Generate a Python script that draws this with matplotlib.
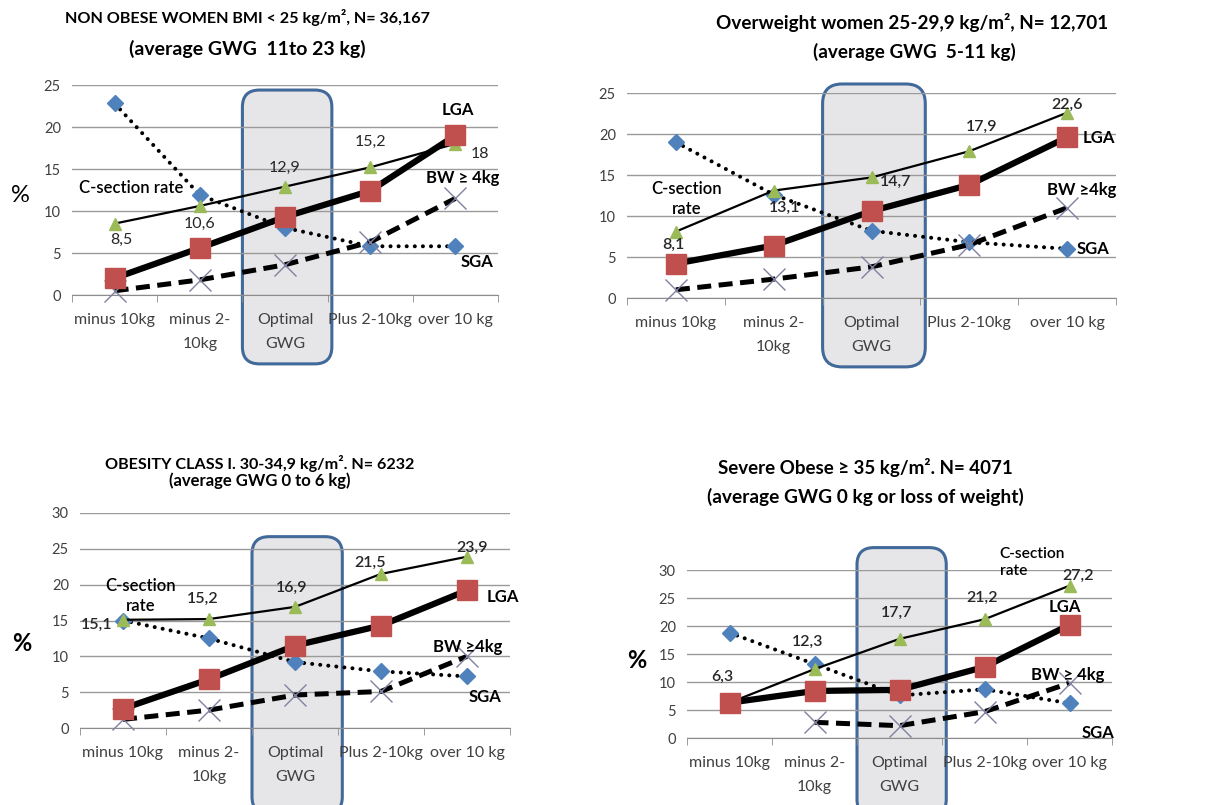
import numpy as np
import matplotlib
matplotlib.use("Agg")
import matplotlib.pyplot as plt
from matplotlib.patches import FancyBboxPatch

plt.rcParams['font.family'] = ['Lato', 'DejaVu Sans']

categories = ["minus 10kg", "minus 2-\n10kg", "Optimal\nGWG", "Plus 2-10kg", "over 10 kg"]

# Panel 1: non obese
p1_sga = [22.8, 11.9, 8.0, 5.8, 5.8]
p1_lga = [2.0, 5.6, 9.3, 12.4, 19.0]
p1_cs = [8.5, 10.6, 12.9, 15.2, 18.0]
p1_bw = [0.5, 1.8, 3.6, 6.3, 11.5]
p1_cs_labels = ["8,5", "10,6", "12,9", "15,2", "18"]

# Panel 2: overweight
p2_sga = [19.0, 12.6, 8.2, 6.8, 6.0]
p2_lga = [4.2, 6.4, 10.6, 13.8, 19.6]
p2_cs = [8.1, 13.1, 14.7, 17.9, 22.6]
p2_bw = [1.0, 2.3, 3.8, 6.5, 11.0]
p2_cs_labels = ["8,1", "13,1", "14,7", "17,9", "22,6"]

# Panel 3: obesity class I
p3_sga = [15.0, 12.5, 9.2, 7.9, 7.2]
p3_lga = [2.7, 6.8, 11.5, 14.3, 19.2]
p3_cs = [15.1, 15.2, 16.9, 21.5, 23.9]
p3_bw = [1.2, 2.5, 4.6, 5.1, 10.0]
p3_cs_labels = ["15,1", "15,2", "16,9", "21,5", "23,9"]

# Panel 4: severe obese
p4_sga = [18.8, 13.2, 7.6, 8.7, 6.2]
p4_lga = [6.3, 8.4, 8.6, 12.7, 20.2]
p4_cs = [6.3, 12.3, 17.7, 21.2, 27.2]
p4_bw = [np.nan, 2.8, 2.2, 4.7, 9.8]
p4_cs_labels = ["6,3", "12,3", "17,7", "21,2", "27,2"]

W, H = 1208, 805
fig = plt.figure(figsize=(W / 100, H / 100), dpi=100)

def px_axes(x0, x1, y_top, y_bot):
    return fig.add_axes([x0 / W, 1 - y_bot / H, (x1 - x0) / W, (y_bot - y_top) / H])

def draw_panel(ax, sga, lga, cs, bw, ymax, box_top, box_bot, cs_labels, cs_pos, cs_weight):
    x = np.arange(len(categories))
    ax.set_xlim(-0.5, 4.5)
    ax.set_ylim(0, ymax)
    ax.set_yticks(np.arange(0, ymax + 1, 5))
    ax.grid(axis='y', color='#9a9a9a', lw=1.0)
    ax.set_axisbelow(True)
    for s in ['top', 'right', 'left']:
        ax.spines[s].set_visible(False)
    ax.spines['bottom'].set_color('#8c8c8c')
    ax.set_xticks(x)
    ax.set_xticklabels(categories, fontsize=11.5, color='#404040', linespacing=1.9)
    ax.set_xticks(np.arange(-0.5, 5, 1), minor=True)
    ax.tick_params(axis='x', which='major', length=0, pad=13)
    ax.tick_params(axis='x', which='minor', length=5, color='#8c8c8c')
    ax.tick_params(axis='y', length=0, labelsize=10.5, labelcolor='#404040', pad=8)

    # optimal box
    bb = ax.get_window_extent()
    pxx = bb.width / 5.0
    pxy = bb.height / ymax
    aspect = pxx / pxy
    box = FancyBboxPatch((1.5, box_bot), 1.05, box_top - box_bot,
                         boxstyle="round,pad=0,rounding_size=0.2",
                         mutation_aspect=aspect,
                         fc='#e6e6e8', ec='#41699a', lw=2.2, clip_on=False, zorder=0.3)
    ax.add_patch(box)

    ax.plot(x, sga, color='black', lw=2.9, ls=(0, (0.01, 2.0)), dash_capstyle='round',
            marker='D', ms=8.5, mfc='#4f81bd', mec='#4f81bd', zorder=3, clip_on=False)
    ax.plot(x, bw, color='black', lw=3.6, ls=(0, (2.8, 1.5)),
            marker='x', ms=16, mec='#8080a0', mew=1.0, zorder=3.5, clip_on=False)
    ax.plot(x, cs, color='black', lw=1.6,
            marker='^', ms=8.5, mfc='#9bbb59', mec='#9bbb59', zorder=4, clip_on=False)
    ax.plot(x, lga, color='black', lw=4.5,
            marker='s', ms=14, mfc='#c0504d', mec='#c0504d', zorder=5, clip_on=False)

    for lab, (lx, ly) in zip(cs_labels, cs_pos):
        ax.text(lx, ly, lab, ha='center', va='center', fontsize=11.5, color='#262626',
                fontweight=cs_weight, zorder=6, clip_on=False)

def lab(ax, x, y, s, ha='center', fs=12, fw='bold'):
    ax.text(x, y, s, ha=ha, va='center', fontsize=fs, fontweight=fw, color='black',
            zorder=7, clip_on=False, linespacing=1.3, family=['Lato', 'DejaVu Sans'])

# ---- Panel 1 ----
ax1 = px_axes(72, 498, 85, 295)
draw_panel(ax1, p1_sga, p1_lga, p1_cs, p1_bw, 25, 24.4, -8.2, p1_cs_labels,
           [(0.08, 6.6), (1.0, 8.5), (2.0, 15.1), (3.0, 18.2), (4.29, 16.8)], 'normal')
lab(ax1, 0.2, 12.7, "C-section rate", fs=12, fw='semibold')
lab(ax1, 4.03, 22.0, "LGA")
lab(ax1, 4.08, 13.9, "BW ≥ 4kg")
lab(ax1, 4.25, 3.9, "SGA")
fig.text(20 / W, 1 - 195 / H, "%", fontsize=17, ha='center', va='center')
fig.text(247 / W, 1 - 18 / H, "NON OBESE WOMEN BMI < 25 kg/m², N= 36,167", fontsize=11.6,
         fontweight='bold', ha='center', va='center')
fig.text(247 / W, 1 - 49 / H, "(average GWG  11to 23 kg)", fontsize=14,
         fontweight='bold', ha='center', va='center')

# ---- Panel 2 ----
ax2 = px_axes(627, 1116, 93, 298)
draw_panel(ax2, p2_sga, p2_lga, p2_cs, p2_bw, 25, 26.1, -8.4, p2_cs_labels,
           [(-0.03, 6.5), (1.11, 11.0), (2.25, 14.2), (3.13, 20.9), (4.0, 23.5)], 'semibold')
lab(ax2, 0.11, 12.1, "C-section\nrate", fs=12, fw='semibold')
lab(ax2, 4.16, 19.5, "LGA", ha='left')
lab(ax2, 4.15, 13.2, "BW ≥4kg")
lab(ax2, 4.1, 6.0, "SGA", ha='left')
fig.text(912 / W, 1 - 22 / H, "Overweight women 25-29,9 kg/m², N= 12,701", fontsize=13.6,
         fontweight='bold', ha='center', va='center')
fig.text(914 / W, 1 - 52 / H, "(average GWG  5-11 kg)", fontsize=13.6,
         fontweight='bold', ha='center', va='center')

# ---- Panel 3 ----
ax3 = px_axes(80, 510, 513, 728)
draw_panel(ax3, p3_sga, p3_lga, p3_cs, p3_bw, 30, 26.7, -12.0, p3_cs_labels,
           [(-0.3, 14.4), (0.93, 18.0), (1.96, 19.5), (2.87, 23.0), (4.06, 25.1)], 'semibold')
lab(ax3, 0.2, 18.4, "C-section\nrate", fs=12, fw='semibold')
lab(ax3, 4.23, 18.3, "LGA", ha='left')
lab(ax3, 4.01, 11.3, "BW ≥4kg")
lab(ax3, 4.21, 4.3, "SGA")
fig.text(22 / W, 1 - 643 / H, "%", fontsize=17, fontweight='bold', ha='center', va='center')
fig.text(260 / W, 1 - 463 / H, "OBESITY CLASS I. 30-34,9 kg/m². N= 6232", fontsize=11.6,
         fontweight='bold', ha='center', va='center')
fig.text(260 / W, 1 - 481 / H, "(average GWG 0 to 6 kg)", fontsize=12,
         fontweight='bold', ha='center', va='center')

# ---- Panel 4 ----
ax4 = px_axes(687, 1112, 570, 738)
draw_panel(ax4, p4_sga, p4_lga, p4_cs, p4_bw, 30, 34.0, -14.0, p4_cs_labels,
           [(-0.08, 10.9), (0.92, 17.2), (1.97, 22.3), (2.97, 25.0), (4.1, 28.9)], 'semibold')
lab(ax4, 3.18, 31.3, "C-section\nrate", ha='left', fs=11.2, fw='semibold')
lab(ax4, 3.95, 23.4, "LGA")
lab(ax4, 3.98, 11.2, "BW ≥ 4kg")
lab(ax4, 4.33, 0.9, "SGA")
fig.text(637 / W, 1 - 660 / H, "%", fontsize=17, fontweight='bold', ha='center', va='center')
fig.text(865 / W, 1 - 467 / H, "Severe Obese ≥ 35 kg/m². N= 4071", fontsize=13.5,
         fontweight='bold', ha='center', va='center')
fig.text(865 / W, 1 - 497 / H, "(average GWG 0 kg or loss of weight)", fontsize=13.8,
         fontweight='bold', ha='center', va='center')

fig.savefig("out.png", dpi=100)
